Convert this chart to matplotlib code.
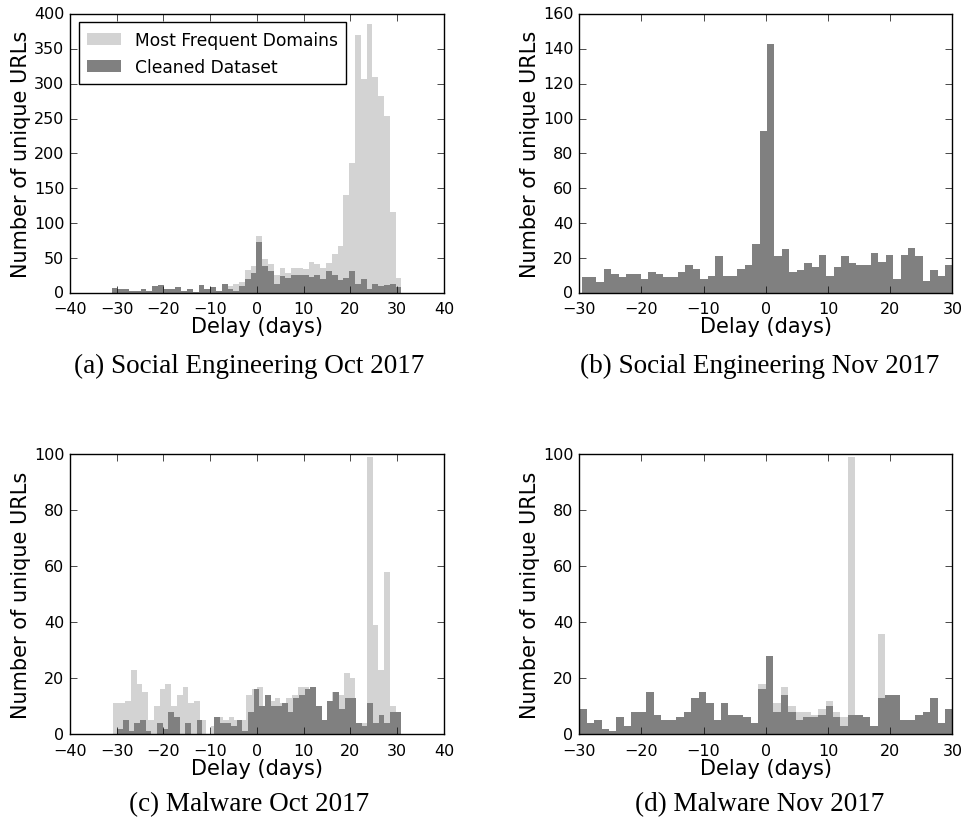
import matplotlib
matplotlib.use('Agg')
import matplotlib.pyplot as plt
import numpy as np

plt.style.use('classic')
plt.rcParams['font.family'] = ['DejaVu Sans']
plt.rcParams['xtick.labelsize'] = 11.5
plt.rcParams['ytick.labelsize'] = 11.5
plt.rcParams['axes.labelsize'] = 15
plt.rcParams['legend.fontsize'] = 12.3

LIGHT = '#d3d3d3'
DARK = '#808080'

# per-bin counts of unique URLs (50 bins each); *_range is the delay span covered
se_oct_frequent = [7, 6, 6, 3, 3, 5, 3, 10, 12, 5, 5, 8, 3, 6, 2, 12, 6, 8, 3, 13,
                   10, 13, 15, 33, 39, 82, 48, 41, 26, 36, 28, 36, 36, 35, 45, 41, 36, 43, 56, 68,
                   141, 186, 370, 307, 385, 309, 282, 253, 116, 22]
se_oct_cleaned = [7, 6, 6, 3, 3, 5, 3, 10, 12, 5, 5, 8, 3, 6, 2, 12, 6, 8, 3, 13,
                  5, 3, 10, 20, 28, 73, 39, 31, 13, 25, 22, 26, 26, 26, 23, 26, 20, 31, 26, 19,
                  22, 32, 13, 20, 6, 13, 10, 12, 13, 9]
se_oct_range = [-31.1, 30.9]

se_nov_cleaned = [9, 9, 6, 14, 11, 9, 11, 11, 8, 12, 11, 9, 9, 12, 16, 14, 8, 10, 21, 10,
                  10, 14, 16, 28, 93, 143, 21, 25, 12, 13, 17, 15, 22, 10, 15, 21, 17, 16, 16, 23,
                  18, 22, 8, 22, 26, 21, 7, 13, 10, 16]
se_nov_frequent = list(se_nov_cleaned)
se_nov_range = [-29.6, 30.0]

mal_oct_frequent = [11, 11, 12, 23, 18, 15, 5, 10, 16, 18, 10, 14, 17, 11, 12, 5, 0, 3, 6, 5,
                    6, 5, 5, 14, 16, 17, 10, 12, 13, 11, 13, 14, 17, 17, 14, 10, 5, 12, 15, 14,
                    22, 20, 4, 4, 99, 39, 23, 58, 10, 8]
mal_oct_frequent_range = [-30.7, 30.9]
mal_oct_cleaned = [2, 5, 1, 4, 5, 1, 0, 4, 2, 8, 6, 0, 4, 0, 5, 0, 0, 6, 4, 4,
                   3, 5, 1, 8, 16, 10, 14, 10, 10, 11, 8, 13, 14, 16, 17, 10, 5, 12, 15, 9,
                   13, 13, 4, 3, 11, 4, 7, 4, 8, 8]
mal_oct_cleaned_range = [-29.9, 30.9]

mal_nov_cleaned = [9, 4, 5, 2, 1, 6, 3, 8, 8, 15, 7, 5, 5, 6, 8, 13, 15, 11, 5, 11,
                   7, 7, 6, 4, 16, 28, 8, 14, 8, 5, 6, 6, 7, 10, 6, 3, 7, 7, 6, 3,
                   13, 14, 14, 5, 5, 7, 8, 13, 4, 9]
mal_nov_frequent = [9, 4, 5, 2, 1, 6, 3, 8, 8, 15, 7, 5, 5, 6, 8, 13, 15, 11, 5, 11,
                    7, 7, 6, 4, 18, 28, 11, 17, 10, 8, 8, 7, 9, 12, 8, 6, 99, 7, 6, 3,
                    36, 14, 14, 5, 5, 7, 8, 13, 4, 9]
mal_nov_range = [-30.0, 30.0]

captions = ['(a) Social Engineering Oct 2017', '(b) Social Engineering Nov 2017',
            '(c) Malware Oct 2017', '(d) Malware Nov 2017']


def draw_hist(ax, counts, span, color, label=None):
    edges = np.linspace(span[0], span[1], len(counts) + 1)
    centers = (edges[:-1] + edges[1:]) / 2
    ax.hist(centers, bins=edges, weights=counts, color=color,
            edgecolor='none', linewidth=0, label=label)


fig = plt.figure(figsize=(9.66, 8.28), dpi=100, facecolor='white')
ax_a = fig.add_axes([0.0725, 0.645, 0.387, 0.337])
ax_b = fig.add_axes([0.5995, 0.645, 0.3865, 0.337])
ax_c = fig.add_axes([0.0725, 0.112, 0.387, 0.338])
ax_d = fig.add_axes([0.5995, 0.112, 0.3865, 0.338])

draw_hist(ax_a, se_oct_frequent, se_oct_range, LIGHT, 'Most Frequent Domains')
draw_hist(ax_a, se_oct_cleaned, se_oct_range, DARK, 'Cleaned Dataset')
ax_a.set_xlim(-40, 40)
ax_a.set_ylim(0, 400)
ax_a.legend(loc='upper left', frameon=True, fancybox=False, borderaxespad=0.5,
            borderpad=0.5, handlelength=2.0, handletextpad=0.8)

draw_hist(ax_b, se_nov_frequent, se_nov_range, LIGHT)
draw_hist(ax_b, se_nov_cleaned, se_nov_range, DARK)
ax_b.set_xlim(-30, 30)
ax_b.set_ylim(0, 160)

draw_hist(ax_c, mal_oct_frequent, mal_oct_frequent_range, LIGHT)
draw_hist(ax_c, mal_oct_cleaned, mal_oct_cleaned_range, DARK)
ax_c.set_xlim(-40, 40)
ax_c.set_ylim(0, 100)

draw_hist(ax_d, mal_nov_frequent, mal_nov_range, LIGHT)
draw_hist(ax_d, mal_nov_cleaned, mal_nov_range, DARK)
ax_d.set_xlim(-30, 30)
ax_d.set_ylim(0, 100)

for ax in (ax_a, ax_b, ax_c, ax_d):
    ax.set_xlabel('Delay (days)', labelpad=0)
    ax.set_ylabel('Number of unique URLs', labelpad=2)
    ax.tick_params(direction='in', length=5, top=True, right=True)
    ax.tick_params(axis='x', pad=6)

caption_pos = [(0.258, 0.558), (0.786, 0.558), (0.258, 0.028), (0.786, 0.028)]
for text, (x, y) in zip(captions, caption_pos):
    fig.text(x, y, text, ha='center', va='center', fontsize=19.5,
             family=['Liberation Serif', 'DejaVu Serif'])

fig.savefig('out.png', dpi=100, facecolor='white')
